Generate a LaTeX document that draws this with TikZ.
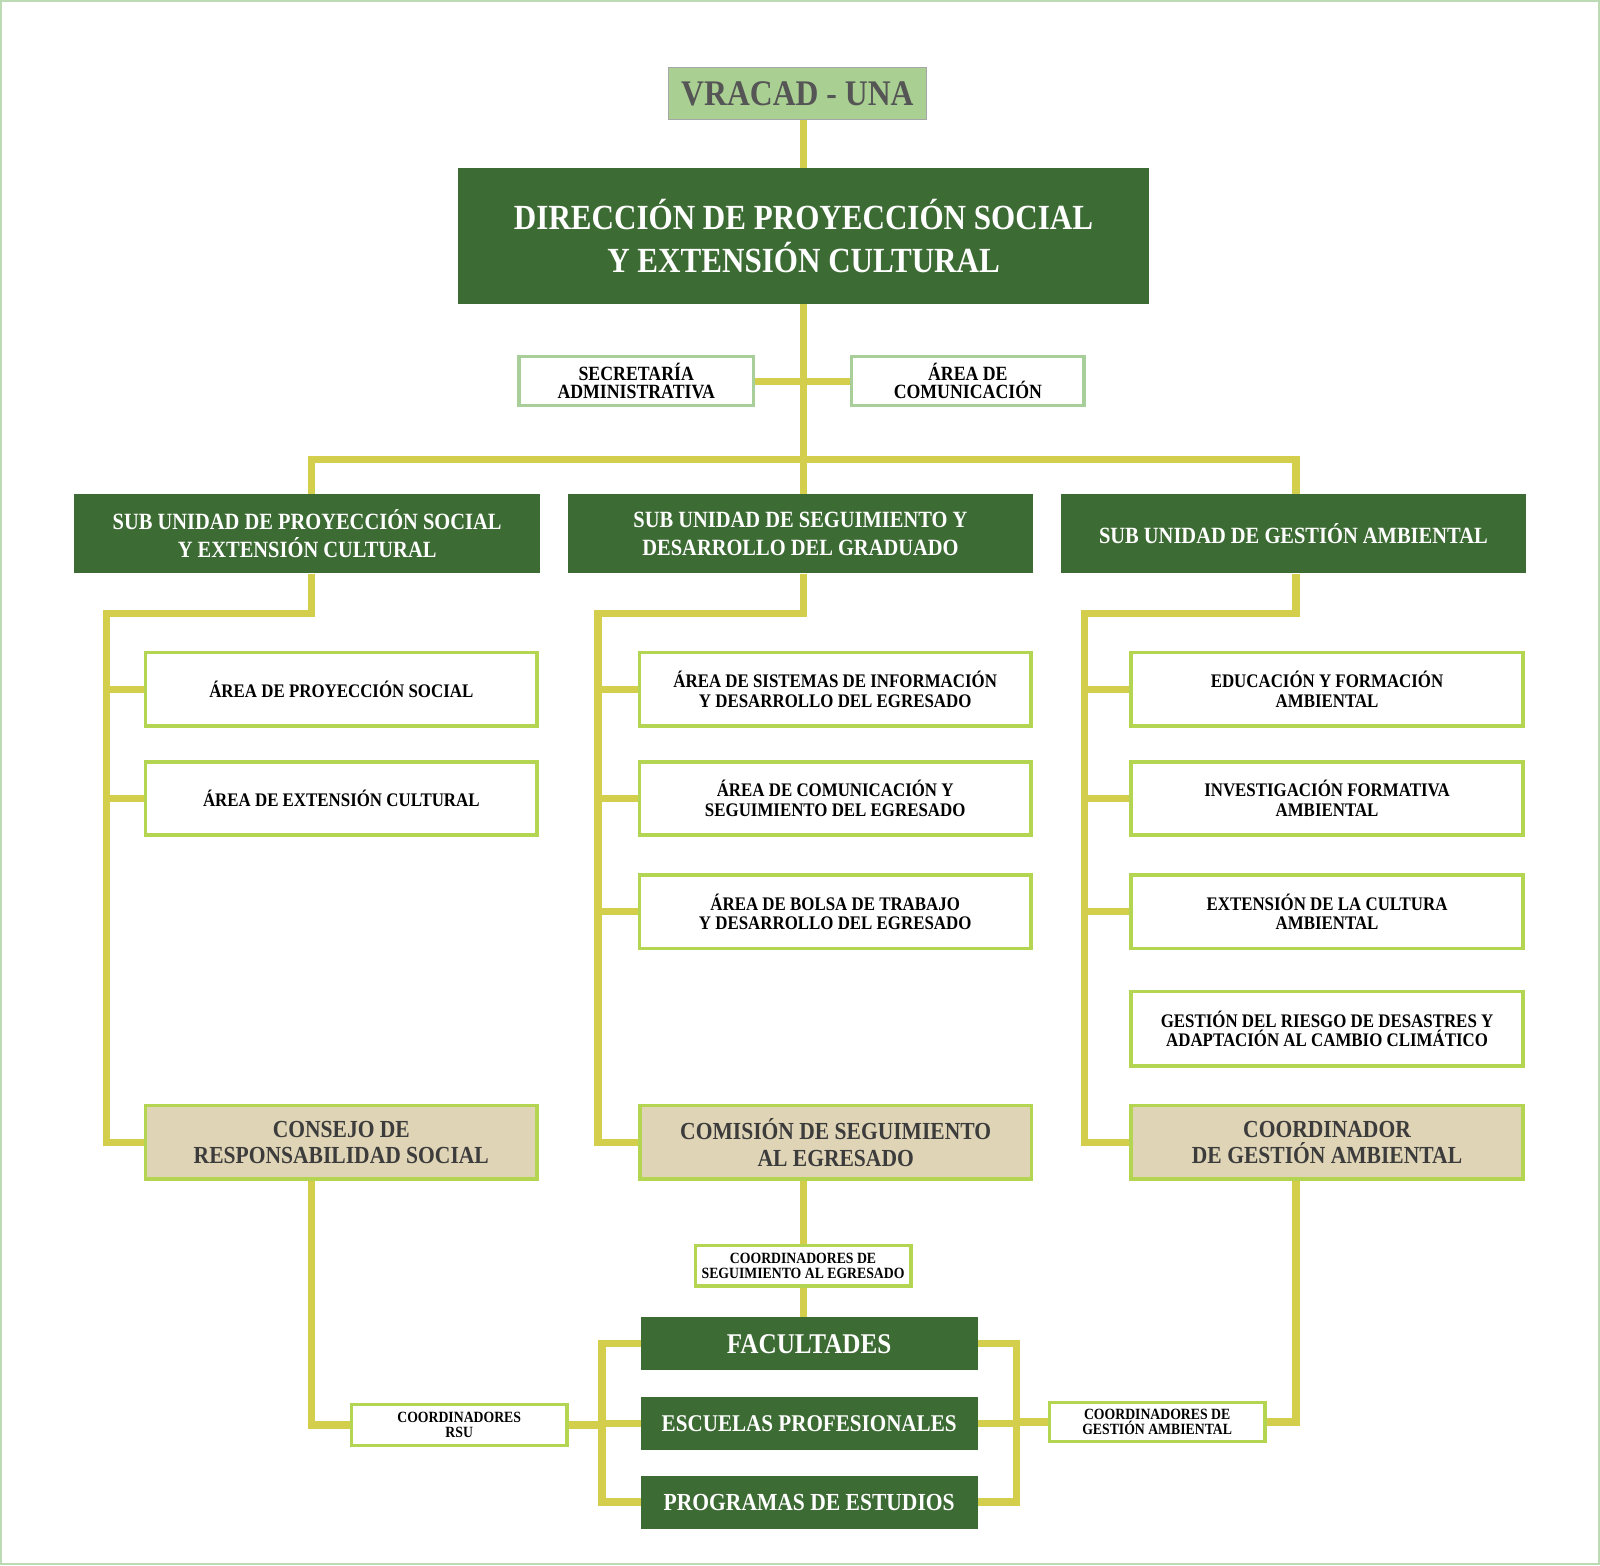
\documentclass[tikz,border=0pt]{standalone}
\usepackage{fontspec}
\setmainfont[FakeStretch=0.88]{Liberation Serif}
\definecolor{dkgreen}{RGB}{61,107,52}
\definecolor{lnclr}{RGB}{211,207,76}
\definecolor{limeb}{RGB}{180,213,82}
\definecolor{sage}{RGB}{168,207,154}
\definecolor{tanf}{RGB}{223,212,181}
\definecolor{vrf}{RGB}{169,208,146}
\definecolor{framec}{RGB}{190,218,180}
\definecolor{dgray}{RGB}{60,60,60}
\definecolor{vrtext}{RGB}{85,85,85}
\begin{document}
\begin{tikzpicture}[x=1pt,y=-1pt,
  box/.style={rectangle, inner sep=0pt, align=center, font=\bfseries},
  dg/.style={box, fill=dkgreen, text=white},
  wb/.style={box, fill=white, draw=limeb, line width=3.5pt, text=black},
  tb/.style={box, fill=tanf, draw=limeb, line width=3.5pt, text=dgray},
  sb/.style={box, fill=white, draw=sage, line width=3.5pt, text=black},
  conn/.style={draw=lnclr, line width=7pt, line join=miter},
  fdir/.style={font=\bfseries\fontsize{34.6}{42}\selectfont},
  fsub/.style={font=\bfseries\fontsize{22.8}{27}\selectfont},
  farea/.style={font=\bfseries\fontsize{18.8}{19}\selectfont},
  ftan/.style={font=\bfseries\fontsize{24}{26}\selectfont},
  fsmall/.style={font=\bfseries\fontsize{15.3}{15}\selectfont},
  fsec/.style={font=\bfseries\fontsize{19.8}{18}\selectfont},
]
\useasboundingbox (0,0) rectangle (1568,1534);
\draw[framec, line width=2pt] (1,1) rectangle (1567,1533);

% top
\node[box, fill=vrf, draw=gray!70, line width=1pt, text=vrtext, minimum width=252pt, minimum height=51pt,
  font=\bfseries\fontsize{35.3}{40}\selectfont] (vr) at (781.5,92) {VRACAD - UNA};
\node[dg, fdir, minimum width=677pt, minimum height=133pt] (dir) at (787.5,231.5)
  {DIRECCIÓN DE PROYECCIÓN SOCIAL\\Y EXTENSIÓN CULTURAL};
\node[sb, fsec, minimum width=230pt, minimum height=48pt] (sec) at (623.5,373.5) {SECRETARÍA\\ADMINISTRATIVA};
\node[sb, fsec, minimum width=228pt, minimum height=48pt] (com) at (948.5,373.5) {ÁREA DE\\COMUNICACIÓN};

% sub units
\node[dg, fsub, minimum width=456pt, minimum height=78pt] (su1) at (301,523)
  {SUB UNIDAD DE PROYECCIÓN SOCIAL\\Y EXTENSIÓN CULTURAL};
\node[dg, fsub, minimum width=455pt, minimum height=78pt] (su2) at (784.5,523)
  {SUB UNIDAD DE SEGUIMIENTO Y\\DESARROLLO DEL GRADUADO};
\node[dg, fsub, minimum width=455pt, minimum height=78pt] (su3) at (1267.5,523)
  {SUB UNIDAD DE GESTIÓN AMBIENTAL};

% column 1
\node[wb, farea, minimum width=384pt, minimum height=72pt] (a11) at (334.5,675.5) {ÁREA DE PROYECCIÓN SOCIAL};
\node[wb, farea, minimum width=384pt, minimum height=72pt] (a12) at (334.5,782.5) {ÁREA DE EXTENSIÓN CULTURAL};
\node[tb, ftan, minimum width=384pt, minimum height=72pt] (cons) at (334.5,1119.5) {CONSEJO DE\\RESPONSABILIDAD SOCIAL};

% column 2
\node[wb, farea, minimum width=384pt, minimum height=72pt] (a21) at (818.5,675.5) {ÁREA DE SISTEMAS DE INFORMACIÓN\\Y DESARROLLO DEL EGRESADO};
\node[wb, farea, minimum width=384pt, minimum height=72pt] (a22) at (818.5,782.5) {ÁREA DE COMUNICACIÓN Y\\SEGUIMIENTO DEL EGRESADO};
\node[wb, farea, minimum width=384pt, minimum height=72pt] (a23) at (818.5,893.5) {ÁREA DE BOLSA DE TRABAJO\\Y DESARROLLO DEL EGRESADO};
\node[tb, ftan, minimum width=384pt, minimum height=72pt] (comi) at (819,1119.5) {COMISIÓN DE SEGUIMIENTO\\AL EGRESADO};

% column 3
\node[wb, farea, minimum width=384pt, minimum height=72pt] (a31) at (1300.5,675.5) {EDUCACIÓN Y FORMACIÓN\\AMBIENTAL};
\node[wb, farea, minimum width=384pt, minimum height=72pt] (a32) at (1300.5,782.5) {INVESTIGACIÓN FORMATIVA\\AMBIENTAL};
\node[wb, farea, minimum width=384pt, minimum height=72pt] (a33) at (1300.5,893.5) {EXTENSIÓN DE LA CULTURA\\AMBIENTAL};
\node[wb, farea, minimum width=384pt, minimum height=73pt] (a34) at (1300.5,1008) {GESTIÓN DEL RIESGO DE DESASTRES Y\\ADAPTACIÓN AL CAMBIO CLIMÁTICO};
\node[tb, ftan, minimum width=384pt, minimum height=72pt] (coor) at (1300.5,1119.5) {COORDINADOR\\DE GESTIÓN AMBIENTAL};

% bottom
\node[wb, fsmall, minimum width=211pt, minimum height=40pt] (cse) at (787,1240.5) {COORDINADORES DE\\SEGUIMIENTO AL EGRESADO};
\node[wb, fsmall, minimum width=211pt, minimum height=40pt] (rsu) at (450,1396.5) {COORDINADORES\\RSU};
\node[wb, fsmall, minimum width=211pt, minimum height=38pt] (cga) at (1134,1393.5) {COORDINADORES DE\\GESTIÓN AMBIENTAL};
\node[dg, font=\bfseries\fontsize{28}{30}\selectfont, minimum width=330pt, minimum height=52pt] (fac) at (793,1317) {FACULTADES};
\node[dg, font=\bfseries\fontsize{23.5}{26}\selectfont, minimum width=330pt, minimum height=52pt] (esc) at (793,1395) {ESCUELAS PROFESIONALES};
\node[dg, font=\bfseries\fontsize{24}{26}\selectfont, minimum width=330pt, minimum height=52pt] (pro) at (793,1472) {PROGRAMAS DE ESTUDIOS};

% coordinates
\coordinate (bL) at (305,450);
\coordinate (bM) at (787,450);
\coordinate (bR) at (1270,450);
\coordinate (t1) at (104,601);
\coordinate (t2) at (586,601);
\coordinate (t3) at (1063,601);
\coordinate (xL) at (590,1394);
\coordinate (xR) at (996,1393);

% connectors
\draw[conn] (bM |- vr.south) -- (bM |- dir.north);
\draw[conn] (bM |- dir.south) -- (bM);
\draw[conn] (sec.east) -- (com.west);
\draw[conn] (bL |- su1.north) -- (bL) -- (bR) -- (bR |- su3.north);
\draw[conn] (bM) -- (bM |- su2.north);

% column 1
\draw[conn] (bL |- su1.south) -- (bL |- t1) -- (t1) -- (t1 |- cons.west) -- (cons.west);
\draw[conn] (t1 |- a11.west) -- (a11.west);
\draw[conn] (t1 |- a12.west) -- (a12.west);
% column 2
\draw[conn] (bM |- su2.south) -- (bM |- t2) -- (t2) -- (t2 |- comi.west) -- (comi.west);
\draw[conn] (t2 |- a21.west) -- (a21.west);
\draw[conn] (t2 |- a22.west) -- (a22.west);
\draw[conn] (t2 |- a23.west) -- (a23.west);
% column 3
\draw[conn] (bR |- su3.south) -- (bR |- t3) -- (t3) -- (t3 |- coor.west) -- (coor.west);
\draw[conn] (t3 |- a31.west) -- (a31.west);
\draw[conn] (t3 |- a32.west) -- (a32.west);
\draw[conn] (t3 |- a33.west) -- (a33.west);

% bottom
\draw[conn] (bL |- cons.south) -- (bL |- rsu.west) -- (rsu.west);
\draw[conn] (bM |- comi.south) -- (cse.north);
\draw[conn] (cse.south) -- (bM |- fac.north);
\draw[conn] (bR |- coor.south) -- (bR |- cga.east) -- (cga.east);
\draw[conn] (rsu.east) -- (xL |- rsu.east);
\draw[conn] (fac.west) -- (xL |- fac.west) -- (xL |- pro.west) -- (pro.west);
\draw[conn] (xL |- esc.west) -- (esc.west);
\draw[conn] (fac.east) -- (xR |- fac.east) -- (xR |- pro.east) -- (pro.east);
\draw[conn] (xR |- esc.east) -- (esc.east);
\draw[conn] (xR |- cga.west) -- (cga.west);
\end{tikzpicture}
\end{document}
